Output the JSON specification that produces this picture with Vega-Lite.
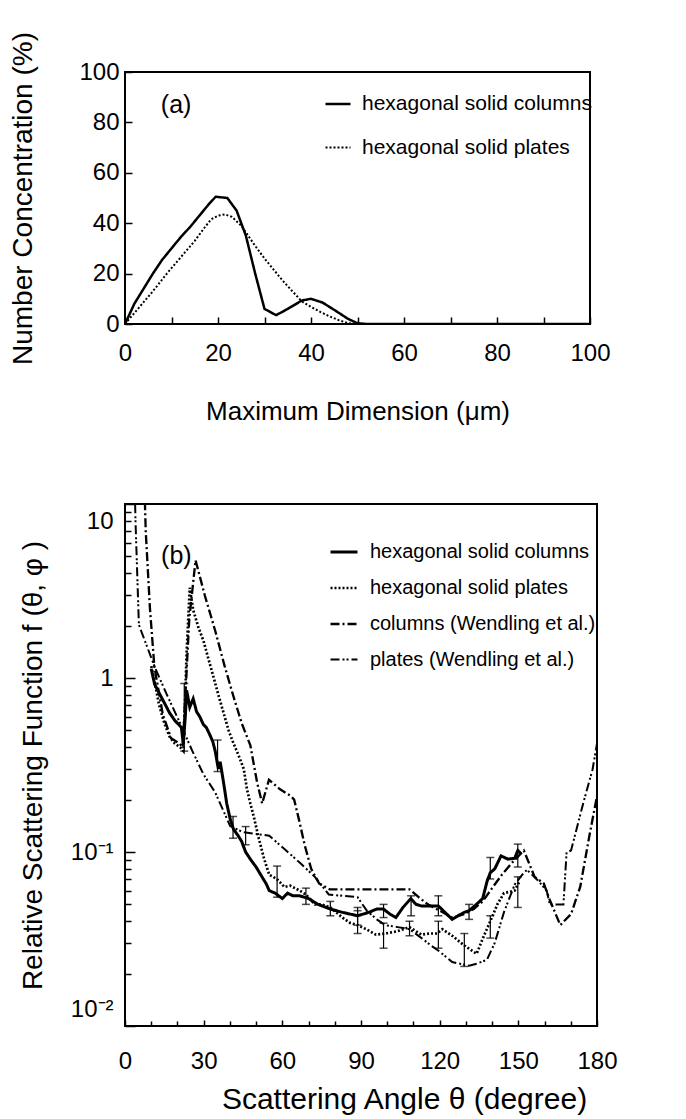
{
  "$schema": "https://vega.github.io/schema/vega-lite/v6.json",
  "background": "white",
  "padding": {"left": 8, "top": 30, "right": 5, "bottom": 5},
  "spacing": 77,
  "resolve": {
    "scale": {"strokeDash": "independent", "strokeWidth": "independent"},
    "legend": {"strokeDash": "independent"}
  },
  "config": {
    "font": "Liberation Sans",
    "view": {"stroke": "black", "strokeWidth": 2},
    "axis": {
      "domain": false, "grid": false, "tickColor": "black", "tickWidth": 1.5,
      "labelColor": "black", "titleColor": "black",
      "labelFont": "Liberation Sans", "titleFont": "Liberation Sans",
      "labelFontSize": 24, "titleFontSize": 28, "titleFontWeight": "normal",
      "labelOverlap": false, "labelFlush": false
    },
    "legend": {
      "labelFont": "Liberation Sans", "labelColor": "black", "labelLimit": 400,
      "symbolType": "stroke", "symbolStrokeColor": "black"
    }
  },
  "datasets": {
    "dist": [
      {"size": 0, "conc": 0, "shape": "hexagonal solid columns"},
      {"size": 2, "conc": 8, "shape": "hexagonal solid columns"},
      {"size": 4, "conc": 14, "shape": "hexagonal solid columns"},
      {"size": 6, "conc": 20, "shape": "hexagonal solid columns"},
      {"size": 8, "conc": 25.5, "shape": "hexagonal solid columns"},
      {"size": 10, "conc": 30, "shape": "hexagonal solid columns"},
      {"size": 12, "conc": 34.5, "shape": "hexagonal solid columns"},
      {"size": 14, "conc": 38.5, "shape": "hexagonal solid columns"},
      {"size": 16, "conc": 43, "shape": "hexagonal solid columns"},
      {"size": 18, "conc": 47.5, "shape": "hexagonal solid columns"},
      {"size": 19.5, "conc": 50.5, "shape": "hexagonal solid columns"},
      {"size": 22, "conc": 50, "shape": "hexagonal solid columns"},
      {"size": 24, "conc": 45, "shape": "hexagonal solid columns"},
      {"size": 26, "conc": 35, "shape": "hexagonal solid columns"},
      {"size": 28, "conc": 20, "shape": "hexagonal solid columns"},
      {"size": 30, "conc": 6, "shape": "hexagonal solid columns"},
      {"size": 32.5, "conc": 3.5, "shape": "hexagonal solid columns"},
      {"size": 35, "conc": 6, "shape": "hexagonal solid columns"},
      {"size": 38, "conc": 9.3, "shape": "hexagonal solid columns"},
      {"size": 40, "conc": 10, "shape": "hexagonal solid columns"},
      {"size": 42.5, "conc": 8.5, "shape": "hexagonal solid columns"},
      {"size": 45.5, "conc": 5, "shape": "hexagonal solid columns"},
      {"size": 48, "conc": 2, "shape": "hexagonal solid columns"},
      {"size": 50, "conc": 0.3, "shape": "hexagonal solid columns"},
      {"size": 52, "conc": 0, "shape": "hexagonal solid columns"},
      {"size": 100, "conc": 0, "shape": "hexagonal solid columns"},
      {"size": 0, "conc": 0, "shape": "hexagonal solid plates"},
      {"size": 3, "conc": 6.5, "shape": "hexagonal solid plates"},
      {"size": 6, "conc": 13, "shape": "hexagonal solid plates"},
      {"size": 9, "conc": 20, "shape": "hexagonal solid plates"},
      {"size": 12, "conc": 26.5, "shape": "hexagonal solid plates"},
      {"size": 15, "conc": 33, "shape": "hexagonal solid plates"},
      {"size": 17, "conc": 38, "shape": "hexagonal solid plates"},
      {"size": 18.5, "conc": 41.5, "shape": "hexagonal solid plates"},
      {"size": 20, "conc": 43, "shape": "hexagonal solid plates"},
      {"size": 21.5, "conc": 43.5, "shape": "hexagonal solid plates"},
      {"size": 23, "conc": 42.5, "shape": "hexagonal solid plates"},
      {"size": 25, "conc": 39, "shape": "hexagonal solid plates"},
      {"size": 28, "conc": 31, "shape": "hexagonal solid plates"},
      {"size": 30, "conc": 26, "shape": "hexagonal solid plates"},
      {"size": 32, "conc": 21.5, "shape": "hexagonal solid plates"},
      {"size": 34, "conc": 17, "shape": "hexagonal solid plates"},
      {"size": 36, "conc": 13, "shape": "hexagonal solid plates"},
      {"size": 38, "conc": 9, "shape": "hexagonal solid plates"},
      {"size": 40, "conc": 6.8, "shape": "hexagonal solid plates"},
      {"size": 42, "conc": 4.8, "shape": "hexagonal solid plates"},
      {"size": 44, "conc": 3, "shape": "hexagonal solid plates"},
      {"size": 46, "conc": 1.5, "shape": "hexagonal solid plates"},
      {"size": 48, "conc": 0.3, "shape": "hexagonal solid plates"},
      {"size": 50, "conc": 0, "shape": "hexagonal solid plates"},
      {"size": 100, "conc": 0, "shape": "hexagonal solid plates"}
    ],
    "scat": [
      {"angle": 10, "f": 1.13, "series": "hexagonal solid columns"},
      {"angle": 11.3, "f": 0.92, "series": "hexagonal solid columns"},
      {"angle": 13, "f": 0.82, "series": "hexagonal solid columns"},
      {"angle": 15, "f": 0.72, "series": "hexagonal solid columns"},
      {"angle": 17, "f": 0.63, "series": "hexagonal solid columns"},
      {"angle": 19, "f": 0.57, "series": "hexagonal solid columns"},
      {"angle": 21.5, "f": 0.52, "series": "hexagonal solid columns"},
      {"angle": 22.2, "f": 0.42, "series": "hexagonal solid columns"},
      {"angle": 23, "f": 0.6, "series": "hexagonal solid columns"},
      {"angle": 23.5, "f": 0.85, "series": "hexagonal solid columns"},
      {"angle": 24.7, "f": 0.68, "series": "hexagonal solid columns"},
      {"angle": 26, "f": 0.76, "series": "hexagonal solid columns"},
      {"angle": 27.3, "f": 0.64, "series": "hexagonal solid columns"},
      {"angle": 28.5, "f": 0.6, "series": "hexagonal solid columns"},
      {"angle": 29.9, "f": 0.54, "series": "hexagonal solid columns"},
      {"angle": 31, "f": 0.52, "series": "hexagonal solid columns"},
      {"angle": 32.4, "f": 0.47, "series": "hexagonal solid columns"},
      {"angle": 33.5, "f": 0.43, "series": "hexagonal solid columns"},
      {"angle": 34.4, "f": 0.38, "series": "hexagonal solid columns"},
      {"angle": 35.6, "f": 0.3, "series": "hexagonal solid columns"},
      {"angle": 36.3, "f": 0.33, "series": "hexagonal solid columns"},
      {"angle": 37.6, "f": 0.25, "series": "hexagonal solid columns"},
      {"angle": 38.8, "f": 0.19, "series": "hexagonal solid columns"},
      {"angle": 40.1, "f": 0.155, "series": "hexagonal solid columns"},
      {"angle": 41.4, "f": 0.135, "series": "hexagonal solid columns"},
      {"angle": 43, "f": 0.125, "series": "hexagonal solid columns"},
      {"angle": 44.5, "f": 0.115, "series": "hexagonal solid columns"},
      {"angle": 46, "f": 0.1, "series": "hexagonal solid columns"},
      {"angle": 48, "f": 0.09, "series": "hexagonal solid columns"},
      {"angle": 50, "f": 0.082, "series": "hexagonal solid columns"},
      {"angle": 52, "f": 0.073, "series": "hexagonal solid columns"},
      {"angle": 54, "f": 0.065, "series": "hexagonal solid columns"},
      {"angle": 55, "f": 0.06, "series": "hexagonal solid columns"},
      {"angle": 57.3, "f": 0.058, "series": "hexagonal solid columns"},
      {"angle": 60, "f": 0.054, "series": "hexagonal solid columns"},
      {"angle": 62, "f": 0.058, "series": "hexagonal solid columns"},
      {"angle": 64, "f": 0.056, "series": "hexagonal solid columns"},
      {"angle": 66.6, "f": 0.056, "series": "hexagonal solid columns"},
      {"angle": 70, "f": 0.054, "series": "hexagonal solid columns"},
      {"angle": 73.6, "f": 0.05, "series": "hexagonal solid columns"},
      {"angle": 78.3, "f": 0.047, "series": "hexagonal solid columns"},
      {"angle": 82.9, "f": 0.045, "series": "hexagonal solid columns"},
      {"angle": 88.7, "f": 0.043, "series": "hexagonal solid columns"},
      {"angle": 93, "f": 0.045, "series": "hexagonal solid columns"},
      {"angle": 96, "f": 0.047, "series": "hexagonal solid columns"},
      {"angle": 98.6, "f": 0.047, "series": "hexagonal solid columns"},
      {"angle": 101, "f": 0.044, "series": "hexagonal solid columns"},
      {"angle": 103.3, "f": 0.042, "series": "hexagonal solid columns"},
      {"angle": 106, "f": 0.048, "series": "hexagonal solid columns"},
      {"angle": 109, "f": 0.054, "series": "hexagonal solid columns"},
      {"angle": 111, "f": 0.05, "series": "hexagonal solid columns"},
      {"angle": 113, "f": 0.049, "series": "hexagonal solid columns"},
      {"angle": 116, "f": 0.049, "series": "hexagonal solid columns"},
      {"angle": 119.5, "f": 0.049, "series": "hexagonal solid columns"},
      {"angle": 122, "f": 0.045, "series": "hexagonal solid columns"},
      {"angle": 124.8, "f": 0.041, "series": "hexagonal solid columns"},
      {"angle": 127, "f": 0.043, "series": "hexagonal solid columns"},
      {"angle": 129.4, "f": 0.045, "series": "hexagonal solid columns"},
      {"angle": 131.2, "f": 0.046, "series": "hexagonal solid columns"},
      {"angle": 134, "f": 0.05, "series": "hexagonal solid columns"},
      {"angle": 136.4, "f": 0.054, "series": "hexagonal solid columns"},
      {"angle": 138.1, "f": 0.068, "series": "hexagonal solid columns"},
      {"angle": 139.3, "f": 0.076, "series": "hexagonal solid columns"},
      {"angle": 141, "f": 0.08, "series": "hexagonal solid columns"},
      {"angle": 143.4, "f": 0.095, "series": "hexagonal solid columns"},
      {"angle": 146, "f": 0.091, "series": "hexagonal solid columns"},
      {"angle": 148.6, "f": 0.092, "series": "hexagonal solid columns"},
      {"angle": 149.8, "f": 0.102, "series": "hexagonal solid columns"},
      {"angle": 151, "f": 0.098, "series": "hexagonal solid columns"},

      {"angle": 10, "f": 1.17, "series": "hexagonal solid plates"},
      {"angle": 11.3, "f": 0.95, "series": "hexagonal solid plates"},
      {"angle": 13, "f": 0.7, "series": "hexagonal solid plates"},
      {"angle": 15, "f": 0.55, "series": "hexagonal solid plates"},
      {"angle": 17, "f": 0.46, "series": "hexagonal solid plates"},
      {"angle": 19, "f": 0.42, "series": "hexagonal solid plates"},
      {"angle": 21, "f": 0.4, "series": "hexagonal solid plates"},
      {"angle": 22.3, "f": 0.38, "series": "hexagonal solid plates"},
      {"angle": 23.5, "f": 1.41, "series": "hexagonal solid plates"},
      {"angle": 24.7, "f": 3.3, "series": "hexagonal solid plates"},
      {"angle": 26, "f": 2.46, "series": "hexagonal solid plates"},
      {"angle": 28, "f": 1.95, "series": "hexagonal solid plates"},
      {"angle": 29.9, "f": 1.64, "series": "hexagonal solid plates"},
      {"angle": 31.8, "f": 1.29, "series": "hexagonal solid plates"},
      {"angle": 33.7, "f": 1.02, "series": "hexagonal solid plates"},
      {"angle": 35.6, "f": 0.8, "series": "hexagonal solid plates"},
      {"angle": 37.6, "f": 0.63, "series": "hexagonal solid plates"},
      {"angle": 39.5, "f": 0.5, "series": "hexagonal solid plates"},
      {"angle": 41.4, "f": 0.42, "series": "hexagonal solid plates"},
      {"angle": 43.3, "f": 0.36, "series": "hexagonal solid plates"},
      {"angle": 45.3, "f": 0.3, "series": "hexagonal solid plates"},
      {"angle": 46.5, "f": 0.23, "series": "hexagonal solid plates"},
      {"angle": 47.8, "f": 0.19, "series": "hexagonal solid plates"},
      {"angle": 49.1, "f": 0.16, "series": "hexagonal solid plates"},
      {"angle": 51, "f": 0.12, "series": "hexagonal solid plates"},
      {"angle": 53, "f": 0.092, "series": "hexagonal solid plates"},
      {"angle": 55, "f": 0.074, "series": "hexagonal solid plates"},
      {"angle": 57.9, "f": 0.07, "series": "hexagonal solid plates"},
      {"angle": 60.8, "f": 0.063, "series": "hexagonal solid plates"},
      {"angle": 63, "f": 0.064, "series": "hexagonal solid plates"},
      {"angle": 66.6, "f": 0.06, "series": "hexagonal solid plates"},
      {"angle": 69, "f": 0.057, "series": "hexagonal solid plates"},
      {"angle": 72.4, "f": 0.05, "series": "hexagonal solid plates"},
      {"angle": 75, "f": 0.05, "series": "hexagonal solid plates"},
      {"angle": 78.3, "f": 0.048, "series": "hexagonal solid plates"},
      {"angle": 82.9, "f": 0.042, "series": "hexagonal solid plates"},
      {"angle": 86, "f": 0.039, "series": "hexagonal solid plates"},
      {"angle": 88.7, "f": 0.038, "series": "hexagonal solid plates"},
      {"angle": 92, "f": 0.036, "series": "hexagonal solid plates"},
      {"angle": 95.7, "f": 0.0335, "series": "hexagonal solid plates"},
      {"angle": 99.2, "f": 0.034, "series": "hexagonal solid plates"},
      {"angle": 103.8, "f": 0.035, "series": "hexagonal solid plates"},
      {"angle": 108.5, "f": 0.037, "series": "hexagonal solid plates"},
      {"angle": 111, "f": 0.035, "series": "hexagonal solid plates"},
      {"angle": 113.1, "f": 0.0335, "series": "hexagonal solid plates"},
      {"angle": 116, "f": 0.034, "series": "hexagonal solid plates"},
      {"angle": 119, "f": 0.034, "series": "hexagonal solid plates"},
      {"angle": 121, "f": 0.036, "series": "hexagonal solid plates"},
      {"angle": 124.8, "f": 0.033, "series": "hexagonal solid plates"},
      {"angle": 129.4, "f": 0.029, "series": "hexagonal solid plates"},
      {"angle": 134.1, "f": 0.026, "series": "hexagonal solid plates"},
      {"angle": 136.5, "f": 0.032, "series": "hexagonal solid plates"},
      {"angle": 139.3, "f": 0.04, "series": "hexagonal solid plates"},
      {"angle": 142, "f": 0.05, "series": "hexagonal solid plates"},
      {"angle": 144.5, "f": 0.058, "series": "hexagonal solid plates"},
      {"angle": 148.6, "f": 0.06, "series": "hexagonal solid plates"},
      {"angle": 150.5, "f": 0.068, "series": "hexagonal solid plates"},

      {"angle": 6.5, "f": 40, "series": "columns (Wendling et al.)"},
      {"angle": 7.9, "f": 7, "series": "columns (Wendling et al.)"},
      {"angle": 9.5, "f": 2.53, "series": "columns (Wendling et al.)"},
      {"angle": 11.2, "f": 1.16, "series": "columns (Wendling et al.)"},
      {"angle": 14.4, "f": 0.62, "series": "columns (Wendling et al.)"},
      {"angle": 17.6, "f": 0.45, "series": "columns (Wendling et al.)"},
      {"angle": 20.8, "f": 0.42, "series": "columns (Wendling et al.)"},
      {"angle": 22, "f": 0.4, "series": "columns (Wendling et al.)"},
      {"angle": 24.5, "f": 2.17, "series": "columns (Wendling et al.)"},
      {"angle": 26.9, "f": 4.75, "series": "columns (Wendling et al.)"},
      {"angle": 30.5, "f": 2.96, "series": "columns (Wendling et al.)"},
      {"angle": 34.4, "f": 1.87, "series": "columns (Wendling et al.)"},
      {"angle": 38, "f": 1.17, "series": "columns (Wendling et al.)"},
      {"angle": 41.4, "f": 0.78, "series": "columns (Wendling et al.)"},
      {"angle": 44.5, "f": 0.55, "series": "columns (Wendling et al.)"},
      {"angle": 47.8, "f": 0.41, "series": "columns (Wendling et al.)"},
      {"angle": 50.4, "f": 0.25, "series": "columns (Wendling et al.)"},
      {"angle": 52.3, "f": 0.19, "series": "columns (Wendling et al.)"},
      {"angle": 54.9, "f": 0.26, "series": "columns (Wendling et al.)"},
      {"angle": 59, "f": 0.23, "series": "columns (Wendling et al.)"},
      {"angle": 63.2, "f": 0.21, "series": "columns (Wendling et al.)"},
      {"angle": 64.5, "f": 0.2, "series": "columns (Wendling et al.)"},
      {"angle": 66.5, "f": 0.15, "series": "columns (Wendling et al.)"},
      {"angle": 68.5, "f": 0.11, "series": "columns (Wendling et al.)"},
      {"angle": 71, "f": 0.08, "series": "columns (Wendling et al.)"},
      {"angle": 74, "f": 0.066, "series": "columns (Wendling et al.)"},
      {"angle": 78, "f": 0.061, "series": "columns (Wendling et al.)"},
      {"angle": 90, "f": 0.061, "series": "columns (Wendling et al.)"},
      {"angle": 100, "f": 0.061, "series": "columns (Wendling et al.)"},
      {"angle": 108.5, "f": 0.061, "series": "columns (Wendling et al.)"},
      {"angle": 112, "f": 0.055, "series": "columns (Wendling et al.)"},
      {"angle": 115.5, "f": 0.05, "series": "columns (Wendling et al.)"},
      {"angle": 120, "f": 0.046, "series": "columns (Wendling et al.)"},
      {"angle": 124.8, "f": 0.042, "series": "columns (Wendling et al.)"},
      {"angle": 129.4, "f": 0.044, "series": "columns (Wendling et al.)"},
      {"angle": 133, "f": 0.047, "series": "columns (Wendling et al.)"},
      {"angle": 136.4, "f": 0.052, "series": "columns (Wendling et al.)"},
      {"angle": 140, "f": 0.062, "series": "columns (Wendling et al.)"},
      {"angle": 144, "f": 0.075, "series": "columns (Wendling et al.)"},
      {"angle": 148, "f": 0.088, "series": "columns (Wendling et al.)"},
      {"angle": 152.1, "f": 0.102, "series": "columns (Wendling et al.)"},
      {"angle": 156.2, "f": 0.072, "series": "columns (Wendling et al.)"},
      {"angle": 159.7, "f": 0.066, "series": "columns (Wendling et al.)"},
      {"angle": 162, "f": 0.053, "series": "columns (Wendling et al.)"},
      {"angle": 166, "f": 0.038, "series": "columns (Wendling et al.)"},
      {"angle": 170.1, "f": 0.044, "series": "columns (Wendling et al.)"},
      {"angle": 173.6, "f": 0.063, "series": "columns (Wendling et al.)"},
      {"angle": 177.1, "f": 0.124, "series": "columns (Wendling et al.)"},
      {"angle": 180, "f": 0.21, "series": "columns (Wendling et al.)"},

      {"angle": 3, "f": 40, "series": "plates (Wendling et al.)"},
      {"angle": 4, "f": 8, "series": "plates (Wendling et al.)"},
      {"angle": 5.3, "f": 2.02, "series": "plates (Wendling et al.)"},
      {"angle": 11.3, "f": 1.16, "series": "plates (Wendling et al.)"},
      {"angle": 16, "f": 0.8, "series": "plates (Wendling et al.)"},
      {"angle": 21.5, "f": 0.53, "series": "plates (Wendling et al.)"},
      {"angle": 25.7, "f": 0.38, "series": "plates (Wendling et al.)"},
      {"angle": 29.9, "f": 0.28, "series": "plates (Wendling et al.)"},
      {"angle": 34.4, "f": 0.22, "series": "plates (Wendling et al.)"},
      {"angle": 40.1, "f": 0.141, "series": "plates (Wendling et al.)"},
      {"angle": 45, "f": 0.13, "series": "plates (Wendling et al.)"},
      {"angle": 50, "f": 0.127, "series": "plates (Wendling et al.)"},
      {"angle": 55, "f": 0.124, "series": "plates (Wendling et al.)"},
      {"angle": 60.8, "f": 0.104, "series": "plates (Wendling et al.)"},
      {"angle": 66.6, "f": 0.087, "series": "plates (Wendling et al.)"},
      {"angle": 72.4, "f": 0.072, "series": "plates (Wendling et al.)"},
      {"angle": 77.7, "f": 0.057, "series": "plates (Wendling et al.)"},
      {"angle": 83, "f": 0.056, "series": "plates (Wendling et al.)"},
      {"angle": 88.7, "f": 0.055, "series": "plates (Wendling et al.)"},
      {"angle": 92.2, "f": 0.046, "series": "plates (Wendling et al.)"},
      {"angle": 96, "f": 0.041, "series": "plates (Wendling et al.)"},
      {"angle": 99.2, "f": 0.038, "series": "plates (Wendling et al.)"},
      {"angle": 104, "f": 0.037, "series": "plates (Wendling et al.)"},
      {"angle": 108.5, "f": 0.036, "series": "plates (Wendling et al.)"},
      {"angle": 113.1, "f": 0.032, "series": "plates (Wendling et al.)"},
      {"angle": 116.7, "f": 0.029, "series": "plates (Wendling et al.)"},
      {"angle": 120.1, "f": 0.0267, "series": "plates (Wendling et al.)"},
      {"angle": 124.8, "f": 0.0233, "series": "plates (Wendling et al.)"},
      {"angle": 129.4, "f": 0.0225, "series": "plates (Wendling et al.)"},
      {"angle": 131.2, "f": 0.0222, "series": "plates (Wendling et al.)"},
      {"angle": 134.1, "f": 0.0228, "series": "plates (Wendling et al.)"},
      {"angle": 138, "f": 0.024, "series": "plates (Wendling et al.)"},
      {"angle": 141, "f": 0.03, "series": "plates (Wendling et al.)"},
      {"angle": 144.5, "f": 0.045, "series": "plates (Wendling et al.)"},
      {"angle": 148.6, "f": 0.065, "series": "plates (Wendling et al.)"},
      {"angle": 151.5, "f": 0.074, "series": "plates (Wendling et al.)"},
      {"angle": 153.3, "f": 0.079, "series": "plates (Wendling et al.)"},
      {"angle": 157.3, "f": 0.069, "series": "plates (Wendling et al.)"},
      {"angle": 160.8, "f": 0.06, "series": "plates (Wendling et al.)"},
      {"angle": 162, "f": 0.05, "series": "plates (Wendling et al.)"},
      {"angle": 167.2, "f": 0.05, "series": "plates (Wendling et al.)"},
      {"angle": 168.4, "f": 0.0995, "series": "plates (Wendling et al.)"},
      {"angle": 170.1, "f": 0.102, "series": "plates (Wendling et al.)"},
      {"angle": 174.8, "f": 0.192, "series": "plates (Wendling et al.)"},
      {"angle": 178.3, "f": 0.298, "series": "plates (Wendling et al.)"},
      {"angle": 180, "f": 0.42, "series": "plates (Wendling et al.)"}
    ],
    "err": [
      {"angle": 22.6, "lo": 0.38, "hi": 0.93},
      {"angle": 35.3, "lo": 0.29, "hi": 0.44},
      {"angle": 41.2, "lo": 0.12, "hi": 0.16},
      {"angle": 46, "lo": 0.11, "hi": 0.14},
      {"angle": 58, "lo": 0.055, "hi": 0.083},
      {"angle": 69, "lo": 0.05, "hi": 0.062},
      {"angle": 78.3, "lo": 0.043, "hi": 0.052},
      {"angle": 88.7, "lo": 0.038, "hi": 0.048},
      {"angle": 88.7, "lo": 0.034, "hi": 0.046},
      {"angle": 98.6, "lo": 0.042, "hi": 0.05},
      {"angle": 98.6, "lo": 0.028, "hi": 0.039},
      {"angle": 109.1, "lo": 0.043, "hi": 0.056},
      {"angle": 108.5, "lo": 0.033, "hi": 0.04},
      {"angle": 119.5, "lo": 0.043, "hi": 0.056},
      {"angle": 119.5, "lo": 0.028, "hi": 0.04},
      {"angle": 129.4, "lo": 0.022, "hi": 0.034},
      {"angle": 131.2, "lo": 0.041, "hi": 0.05},
      {"angle": 139.3, "lo": 0.07, "hi": 0.093},
      {"angle": 139.3, "lo": 0.032, "hi": 0.043},
      {"angle": 149.8, "lo": 0.082, "hi": 0.111},
      {"angle": 149.8, "lo": 0.048, "hi": 0.072}
    ]
  },
  "vconcat": [
    {
      "width": 465,
      "height": 252,
      "layer": [
        {
          "data": {"name": "dist"},
          "mark": {"type": "line", "color": "black", "clip": true},
          "encoding": {
            "x": {
              "field": "size", "type": "quantitative",
              "scale": {"domain": [0, 100], "nice": false},
              "title": "Maximum Dimension (μm)",
              "axis": {
                "values": [0, 10, 20, 30, 40, 50, 60, 70, 80, 90, 100],
                "labelExpr": "datum.value % 20 == 0 ? datum.label : ''",
                "labelOverlap": false,
                "tickSize": -7, "labelPadding": 24, "titlePadding": 33, "titleFontSize": 26
              }
            },
            "y": {
              "field": "conc", "type": "quantitative",
              "scale": {"domain": [0, 100], "nice": false},
              "title": "Number Concentration (%)",
              "axis": {
                "values": [0, 10, 20, 30, 40, 50, 60, 70, 80, 90, 100],
                "labelExpr": "datum.value % 20 == 0 ? datum.label : ''",
                "labelOverlap": false,
                "tickSize": -7, "labelPadding": 13, "titlePadding": 41
              }
            },
            "strokeDash": {
              "field": "shape", "type": "nominal",
              "scale": {"domain": ["hexagonal solid columns", "hexagonal solid plates"], "range": [[1, 0], [2, 2]]},
              "legend": {
                "orient": "none", "legendX": 199, "legendY": 18, "title": null,
                "symbolSize": 625, "symbolStrokeWidth": 2.5,
                "labelFontSize": 21, "labelOffset": 10, "rowPadding": 20
              }
            },
            "strokeWidth": {
              "field": "shape", "type": "nominal",
              "scale": {"domain": ["hexagonal solid columns", "hexagonal solid plates"], "range": [2.5, 2]},
              "legend": null
            }
          }
        },
        {
          "data": {"values": [{}]},
          "mark": {"type": "text", "text": "(a)", "fontSize": 25, "align": "center", "baseline": "middle", "color": "black"},
          "encoding": {"x": {"datum": 11}, "y": {"datum": 87}}
        }
      ]
    },
    {
      "width": 472,
      "height": 522,
      "resolve": {"axis": {"x": "independent", "y": "independent"}},
      "layer": [
        {
          "data": {"name": "scat"},
          "mark": {"type": "line", "color": "black", "clip": true},
          "encoding": {
            "x": {
              "field": "angle", "type": "quantitative",
              "scale": {"domain": [0, 180], "nice": false},
              "title": "Scattering Angle θ (degree)",
              "axis": {
                "orient": "bottom",
                "values": [0, 30, 60, 90, 120, 150, 180],
                "labelOverlap": false,
                "tickSize": -6, "labelPadding": 29, "titlePadding": 11, "titleFontSize": 30,
                "titleX": 279, "titleAlign": "center"
              }
            },
            "y": {
              "field": "f", "type": "quantitative",
              "scale": {"type": "log", "domain": [0.01, 10], "nice": false},
              "title": "Relative Scattering Function f (θ, φ )",
              "axis": {
                "orient": "left",
                "values": [0.01, 0.1, 1, 10],
                "labelExpr": "datum.value == 10 ? '10' : datum.value == 1 ? '1' : datum.value == 0.1 ? '10⁻¹' : '10⁻²'",
                "labelOverlap": false, "labelFlush": true, "labelFlushOffset": -5,
                "tickSize": -10, "labelPadding": 22, "titlePadding": 23
              }
            },
            "strokeDash": {
              "field": "series", "type": "nominal",
              "scale": {
                "domain": ["hexagonal solid columns", "hexagonal solid plates", "columns (Wendling et al.)", "plates (Wendling et al.)"],
                "range": [[1, 0], [2, 2], [9, 3, 2, 3], [9, 3, 2, 2, 2, 3]]
              },
              "legend": {
                "orient": "none", "legendX": 204, "legendY": 33, "title": null,
                "symbolSize": 729, "symbolStrokeWidth": 2,
                "labelFontSize": 20, "labelOffset": 11, "rowPadding": 11
              }
            },
            "strokeWidth": {
              "field": "series", "type": "nominal",
              "scale": {
                "domain": ["hexagonal solid columns", "hexagonal solid plates", "columns (Wendling et al.)", "plates (Wendling et al.)"],
                "range": [3, 2, 2, 2]
              },
              "legend": null
            }
          }
        },
        {
          "data": {"name": "err"},
          "mark": {"type": "rule", "color": "black", "strokeWidth": 1.2},
          "encoding": {
            "x": {
              "field": "angle", "type": "quantitative",
              "axis": {
                "orient": "bottom", "title": null, "labels": false,
                "values": [10, 20, 40, 50, 70, 80, 100, 110, 130, 140, 160, 170],
                "tickSize": -5
              }
            },
            "y": {
              "field": "lo", "type": "quantitative",
              "axis": {
                "orient": "left", "title": null, "labels": false,
                "values": [0.02, 0.03, 0.04, 0.05, 0.06, 0.07, 0.08, 0.09, 0.2, 0.3, 0.4, 0.5, 0.6, 0.7, 0.8, 0.9, 2, 3, 4, 5, 6, 7, 8, 9],
                "tickSize": -6
              }
            },
            "y2": {"field": "hi"}
          }
        },
        {
          "data": {"name": "err"},
          "mark": {"type": "tick", "color": "black", "orient": "horizontal", "size": 8, "thickness": 1.5},
          "encoding": {
            "x": {"field": "angle", "type": "quantitative", "axis": null},
            "y": {"field": "lo", "type": "quantitative", "axis": null}
          }
        },
        {
          "data": {"name": "err"},
          "mark": {"type": "tick", "color": "black", "orient": "horizontal", "size": 8, "thickness": 1.5},
          "encoding": {
            "x": {"field": "angle", "type": "quantitative", "axis": null},
            "y": {"field": "hi", "type": "quantitative", "axis": null}
          }
        },
        {
          "data": {"values": [{}]},
          "mark": {"type": "text", "text": "(b)", "fontSize": 25, "align": "center", "baseline": "middle", "color": "black"},
          "encoding": {"x": {"datum": 19.6, "axis": null}, "y": {"datum": 5, "axis": null}}
        }
      ]
    }
  ]
}
